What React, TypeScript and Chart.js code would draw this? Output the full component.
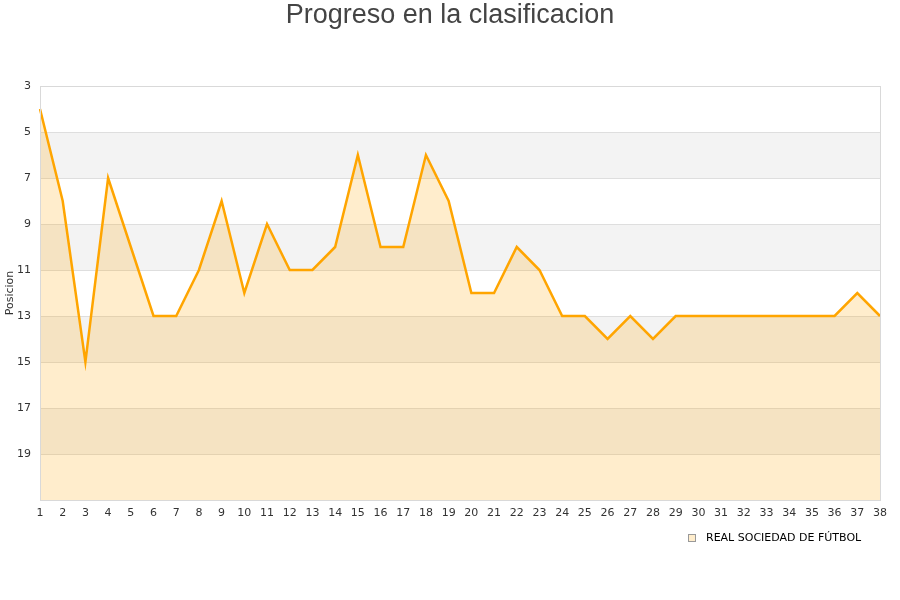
import { useEffect, useRef } from "react";
import { Chart, registerables } from "chart.js";

Chart.register(...registerables);

const jornadas = Array.from({ length: 38 }, (_, i) => String(i + 1));
const posiciones = [
  4, 8, 15, 7, 10, 13, 13, 11, 8, 12, 9, 11, 11, 10, 6, 10, 10, 6, 8, 12, 12, 10, 11, 13, 13, 14, 13, 14, 13, 13, 13,
  13, 13, 13, 13, 13, 12, 13,
];
const bandas = [
  [5, 7],
  [9, 11],
  [13, 15],
  [17, 19],
];
const titulo = "Progreso en la clasificacion";
const equipo = "REAL SOCIEDAD DE FÚTBOL";

const decor = {
  id: "decor",
  beforeDraw(chart: any) {
    const { ctx, chartArea } = chart;
    const y = chart.scales.y;
    ctx.save();
    ctx.fillStyle = "#f3f3f3";
    bandas.forEach(([a, b]) => {
      const y1 = y.getPixelForValue(a);
      const y2 = y.getPixelForValue(b);
      ctx.fillRect(chartArea.left, y1, chartArea.right - chartArea.left, y2 - y1);
    });
    ctx.restore();
  },
  afterDraw(chart: any) {
    const { ctx, chartArea } = chart;
    ctx.save();
    ctx.strokeStyle = "#d9d9d9";
    ctx.lineWidth = 1;
    ctx.strokeRect(chartArea.left + 0.5, chartArea.top + 0.5, chartArea.right - chartArea.left, chartArea.bottom - chartArea.top);
    // titulo
    ctx.fillStyle = "#444444";
    ctx.font = '27px "Liberation Sans", Arial, sans-serif';
    ctx.textAlign = "center";
    ctx.textBaseline = "middle";
    ctx.fillText(titulo, 450, 16);
    // leyenda
    ctx.fillStyle = "rgba(255,165,0,0.2)";
    ctx.fillRect(688, 534, 8, 8);
    ctx.strokeStyle = "#999999";
    ctx.strokeRect(688.5, 534.5, 7, 7);
    ctx.fillStyle = "#000000";
    ctx.font = '11px "DejaVu Sans", sans-serif';
    ctx.textAlign = "left";
    ctx.fillText(equipo, 706, 538.5);
    ctx.restore();
  },
};

export default function App() {
  const ref = useRef<HTMLCanvasElement | null>(null);

  useEffect(() => {
    if (!ref.current) return;
    const chart = new Chart(ref.current, {
      type: "line",
      data: {
        labels: jornadas,
        datasets: [
          {
            label: equipo,
            data: posiciones,
            borderColor: "#ffa500",
            backgroundColor: "rgba(255,165,0,0.2)",
            borderWidth: 2.5,
            pointRadius: 0,
            tension: 0,
            fill: { value: 21 },
          },
        ],
      },
      options: {
        animation: false,
        responsive: false,
        layout: { padding: { top: 86, right: 20, bottom: 70, left: 0 } },
        plugins: {
          legend: { display: false },
          title: { display: false },
          tooltip: { enabled: false },
        },
        scales: {
          x: {
            offset: false,
            afterFit: (s: any) => {
              s.height = 30;
            },
            grid: { display: false, drawTicks: false },
            border: { display: false },
            ticks: {
              color: "#333333",
              padding: 7,
              maxRotation: 0,
              autoSkip: false,
              font: { family: "DejaVu Sans", size: 11 },
            },
          },
          y: {
            reverse: true,
            min: 3,
            max: 21,
            afterFit: (s: any) => {
              s.width = 40;
            },
            grid: { color: "#dedede", drawTicks: false },
            border: { display: false },
            ticks: {
              stepSize: 2,
              padding: 9,
              color: "#333333",
              font: { family: "DejaVu Sans", size: 11 },
              callback: (v: any) => (v === 21 ? "" : String(v)),
            },
            title: {
              display: true,
              text: "Posicion",
              color: "#333333",
              padding: 4,
              font: { family: "DejaVu Sans", size: 11 },
            },
          },
        },
      },
      plugins: [decor],
    });
    return () => {
      chart.destroy();
    };
  }, []);

  return (
    <div style={{ position: "fixed", left: 0, top: 0, width: 900, height: 600, background: "#fff" }}>
      <canvas ref={ref} width={900} height={600} />
    </div>
  );
}
